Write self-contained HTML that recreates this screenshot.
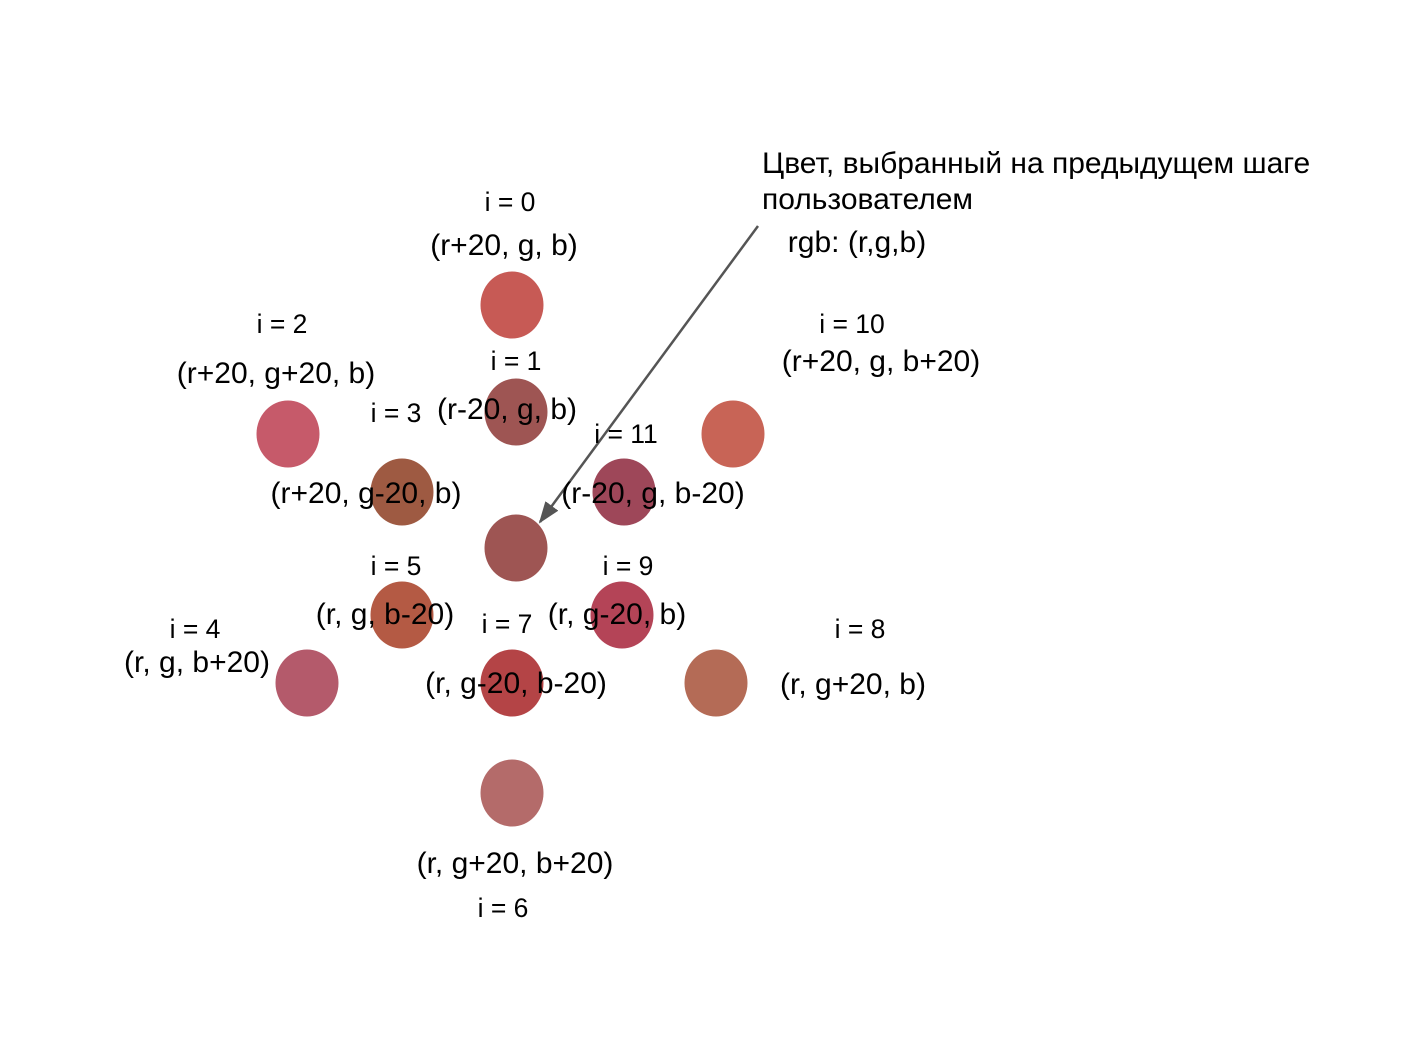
<!DOCTYPE html>
<html><head><meta charset="utf-8"><style>
html,body{margin:0;padding:0;background:#fff;}
svg{display:block;font-family:"Liberation Sans",sans-serif;}
</style></head><body>
<svg id="d" width="1416" height="1054">
<defs><marker id="ah" markerWidth="22" markerHeight="16" refX="20" refY="8" orient="auto" markerUnits="userSpaceOnUse" viewBox="0 0 22 16"><path d="M0,0 L22,8 L0,16 z" fill="#555"/></marker></defs>
<line x1="758" y1="226" x2="540" y2="522" stroke="#555" stroke-width="2.5" marker-end="url(#ah)"/>
<text x="762" y="173" font-size="30">Цвет, выбранный на предыдущем шаге</text>
<text x="762" y="209" font-size="30">пользователем</text>
<text x="857" y="252" font-size="30" text-anchor="middle">rgb: (r,g,b)</text>
</svg>
<script>
const names=["center","i0","i1","i2","i3","i4","i5","i6","i7","i8","i9","i10","i11"];
const colors=["#9e5553","#c75a55","#9e5553","#c65a6a","#9e5a42","#b45a6b","#b45a44","#b46b6a","#b44446","#b46b56","#b44457","#c86456","#9e4759"];
const cx=[516,512,516,288,402,307,402,512,512,716,622,733,624];
const cy=[548,305,412,434,492,683,615,793,683,683,615,434,492];
const idxLabels=["","i = 0","i = 1","i = 2","i = 3","i = 4","i = 5","i = 6","i = 7","i = 8","i = 9","i = 10","i = 11"];
const idxX=[0,510,516,282,396,195,396,503,507,860,628,852,626];
const idxY=[0,202,361,324,413,629,566,908,624,629,566,324,434];
const formulas=["","(r+20, g, b)","(r-20, g, b)","(r+20, g+20, b)","(r+20, g-20, b)","(r, g, b+20)","(r, g, b-20)","(r, g+20, b+20)","(r, g-20, b-20)","(r, g+20, b)","(r, g-20, b)","(r+20, g, b+20)","(r-20, g, b-20)"];
const fX=[0,504,507,276,366,197,385,515,516,853,617,881,653];
const fY=[0,245,409,373,493,662,614,863,683,684,614,361,493];
const svg=document.getElementById('d');
const NS="http://www.w3.org/2000/svg";
const first=svg.querySelector('line');
for(let k=0;k<names.length;k++){
  const e=document.createElementNS(NS,'ellipse');
  e.setAttribute('cx',cx[k]);e.setAttribute('cy',cy[k]);e.setAttribute('rx',31.5);e.setAttribute('ry',33.5);e.setAttribute('fill',colors[k]);
  
  
  svg.insertBefore(e,first);
}
for(let k=1;k<names.length;k++){
  const t=document.createElementNS(NS,'text');
  t.setAttribute('x',idxX[k]);t.setAttribute('y',idxY[k]+9);t.setAttribute('font-size',26.5);t.setAttribute('text-anchor','middle');
  t.textContent=idxLabels[k];
  
  
  svg.appendChild(t);
  const f=document.createElementNS(NS,'text');
  f.setAttribute('x',fX[k]);f.setAttribute('y',fY[k]+10);f.setAttribute('font-size',30);f.setAttribute('text-anchor','middle');
  f.textContent=formulas[k];
  
  
  svg.appendChild(f);
}
</script>
</body></html>
